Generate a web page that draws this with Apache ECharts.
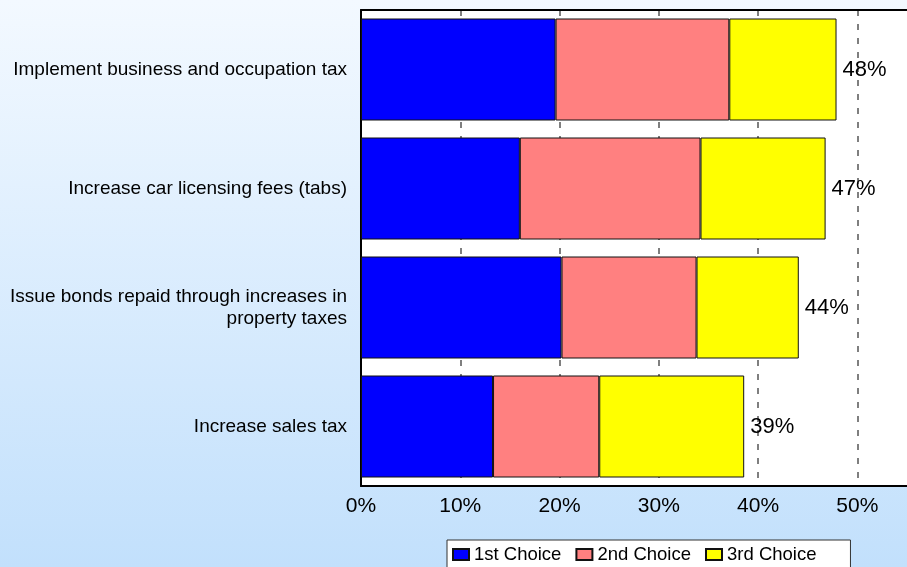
<!DOCTYPE html>
<html>
<head>
<meta charset="utf-8">
<style>
  html, body { margin: 0; padding: 0; }
  #chart { width: 907px; height: 567px; }
</style>
<script src="https://cdn.jsdelivr.net/npm/echarts@6/dist/echarts.min.js"></script>
</head>
<body>
<div id="chart"></div>
<script>
// Revenue options, share of respondents by ranked choice (%)
const categories = [
  'Implement business and occupation tax',
  'Increase car licensing fees (tabs)',
  'Issue bonds repaid through increases in\nproperty taxes',
  'Increase sales tax'
];
const seriesNames = ['1st Choice', '2nd Choice', '3rd Choice'];
const firstChoice = [19.6, 16.0, 20.2, 13.3];
const secondChoice = [17.5, 18.2, 13.6, 10.7];
const thirdChoice = [10.8, 12.6, 10.3, 14.6];
const xTicks = [0, 10, 20, 30, 40, 50];

const colors = ['#0000FF', '#FF8080', '#FFFF00'];
const totals = categories.map((_, i) => firstChoice[i] + secondChoice[i] + thirdChoice[i]);

const font = 'Liberation Sans, Arial, sans-serif';
const chart = echarts.init(document.getElementById('chart'));

function barSeries(name, data, color, withTotal) {
  const s = {
    name: name,
    type: 'bar',
    stack: 'choices',
    xAxisIndex: 0,
    data: data,
    barWidth: 102,
    itemStyle: { color: color, borderColor: '#111', borderWidth: 1 },
    emphasis: { disabled: true }
  };
  if (withTotal) {
    s.label = {
      show: true,
      position: 'right',
      distance: 6,
      fontFamily: font,
      fontSize: 22,
      color: '#000',
      formatter: p => Math.round(totals[p.dataIndex]) + '%'
    };
  }
  return s;
}

chart.setOption({
  animation: false,
  backgroundColor: new echarts.graphic.LinearGradient(0, 0, 0, 1, [
    { offset: 0, color: '#F3F9FF' },
    { offset: 1, color: '#C2E0FC' }
  ]),
  textStyle: { fontFamily: font },
  // white plot area, open on the right side
  grid: {
    left: 361,
    right: 0,
    top: 10,
    bottom: 81,
    show: true,
    backgroundColor: '#FFFFFF',
    borderWidth: 0
  },
  legend: {
    data: seriesNames,
    left: 447,
    top: 540,
    orient: 'horizontal',
    backgroundColor: '#FFFFFF',
    borderColor: '#333',
    borderWidth: 1,
    borderRadius: 0,
    padding: [5, 34, 30, 5],
    itemWidth: 16,
    itemHeight: 11,
    itemGap: 14,
    icon: 'rect',
    selectedMode: false,
    textStyle: { fontFamily: font, fontSize: 18.5, color: '#000' }
  },
  xAxis: [
    {
      type: 'value',
      position: 'bottom',
      min: 0,
      max: 55,
      interval: 10,
      axisLine: { show: true, lineStyle: { color: '#000', width: 2 } },
      axisTick: { show: false },
      splitLine: {
        show: true,
        showMinLine: false,
        showMaxLine: false,
        lineStyle: { color: '#555', width: 1.5, type: [6, 8] }
      },
      axisLabel: {
        fontFamily: font,
        fontSize: 21,
        color: '#000',
        margin: 10,
        showMaxLabel: false,
        formatter: v => (xTicks.indexOf(v) >= 0 ? v + '%' : '')
      }
    },
    {
      // top frame line of the plot area
      type: 'value',
      position: 'top',
      min: 0,
      max: 55,
      interval: 10,
      axisLine: { show: true, onZero: false, lineStyle: { color: '#000', width: 2 } },
      axisTick: { show: false },
      axisLabel: { show: false },
      splitLine: { show: false }
    }
  ],
  yAxis: {
    type: 'category',
    data: categories,
    inverse: true,
    axisLine: { show: true, lineStyle: { color: '#000', width: 2 } },
    axisTick: { show: false },
    splitLine: { show: false },
    axisLabel: {
      fontFamily: font,
      fontSize: 19,
      color: '#000',
      margin: 14,
      lineHeight: 22,
      align: 'right'
    }
  },
  series: [
    barSeries(seriesNames[0], firstChoice, colors[0], false),
    barSeries(seriesNames[1], secondChoice, colors[1], false),
    barSeries(seriesNames[2], thirdChoice, colors[2], true)
  ]
});
</script>
</body>
</html>
